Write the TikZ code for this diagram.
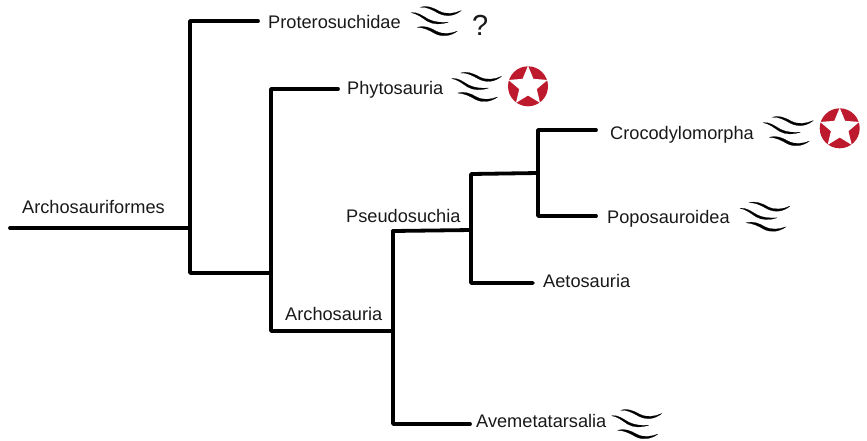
\documentclass[tikz,border=0pt]{standalone}
\usepackage{fontspec}
\setmainfont{Liberation Sans}
\definecolor{starred}{RGB}{190,26,46}
\tikzset{
  x=1pt,y=-1pt,
  branch/.style={line width=3.8pt,line cap=round,line join=round,black},
  taxon/.style={inner sep=0pt,anchor=base west,font=\fontsize{18.2}{22}\selectfont,text=black!90},
  wavefill/.style={fill=black,draw=black,line width=0.2pt,line join=round},
  waves/.pic={
    \path[wavefill] (9,-5.5) .. controls (15,-7.5) and (21,-5.5) .. (28,-1.5) .. controls (35,2) and (43,1) .. (50,-2.2)
      .. controls (43,3.5) and (35,4.5) .. (27,0.5) .. controls (20,-3.5) and (15,-6) .. (9,-5.5) -- cycle;
    \path[wavefill] (0,0) .. controls (6,-1) and (11,3) .. (17,6.5) .. controls (23,9.5) and (30,10) .. (37,9.5)
      .. controls (30,12) and (22,12) .. (16,8.5) .. controls (10,4.5) and (6,1) .. (0,0) -- cycle;
    \path[wavefill] (6,14.5) .. controls (13,12.5) and (19,15) .. (25,18.5) .. controls (32,22) and (39,21) .. (46,18.5)
      .. controls (39,23.5) and (31,24.5) .. (24,21) .. controls (18,17.5) and (13,15) .. (6,14.5) -- cycle;
  },
  redstar/.pic={
    \fill[starred] (0,0) circle (20);
    \fill[white] (-90:20.5) -- (-126:9.2) -- (-162:20.5) -- (-198:9.2) -- (-234:20.5) -- (-270:9.2) -- (-306:20.5) -- (-342:9.2) -- (-18:20.5) -- (-54:9.2) -- cycle;
  }
}
\begin{document}
\begin{tikzpicture}
\useasboundingbox (0,0) rectangle (867,440);
% junctions and free ends
\coordinate (root) at (10,228);
\coordinate (j1) at (190,228);
\coordinate (j1t) at (190,21);
\coordinate (j1b) at (190,273);
\coordinate (j2) at (271,273);
\coordinate (j2t) at (271,89);
\coordinate (j2b) at (271,331);
\coordinate (j3) at (393,331);
\coordinate (j3t) at (393,231);
\coordinate (j3b) at (393,424);
\coordinate (j4) at (471,230);
\coordinate (j4t) at (471,174);
\coordinate (j4b) at (471,283);
\coordinate (j5) at (538,173);
\coordinate (j5t) at (538,130);
\coordinate (j5b) at (538,216);
\coordinate (e1) at (258,21);
\coordinate (e2) at (338,89);
\coordinate (e3) at (596,130);
\coordinate (e4) at (596,216);
\coordinate (e5) at (533,283);
\coordinate (e6) at (470,424);
% branches
\draw[branch] (root) -- (j1);
\draw[branch] (e1) -- (j1t) -- (j1b) -- (j2);
\draw[branch] (e2) -- (j2t) -- (j2b) -- (j3);
\draw[branch] (j3t) -- (j3b) -- (e6);
\draw[branch] (j3t) -- (j4);
\draw[branch] (j5) -- (j4t) -- (j4b) -- (e5);
\draw[branch] (e3) -- (j5t) -- (j5b) -- (e4);
% labels
\node[taxon] (arch) at (22,213.5) {Archosauriformes};
\node[taxon] (prot) at (268,28.5) {Proterosuchidae};
\node[taxon] (phyt) at (347,94.5) {Phytosauria};
\node[taxon] (croc) at (610,139) {Crocodylomorpha};
\node[taxon] (popo) at (607,223.5) {Poposauroidea};
\node[taxon] (pseu) at (346,222) {Pseudosuchia};
\node[taxon] (aeto) at (543,287.5) {Aetosauria};
\node[taxon] (aves) at (285,320.5) {Archosauria};
\node[taxon] (avem) at (476,427.5) {Avemetatarsalia};
\node[taxon,font=\fontsize{29}{32}\selectfont] (q) at (472,35.5) {?};
% icons
\pic at (411.3,12.7) {waves};
\pic at (451.6,78.5) {waves};
\pic at (763.3,122.7) {waves};
\pic at (740,208.3) {waves};
\pic at (611.7,415.7) {waves};
\pic at (528,86.3) {redstar};
\pic at (839.7,128.3) {redstar};
\end{tikzpicture}
\end{document}
